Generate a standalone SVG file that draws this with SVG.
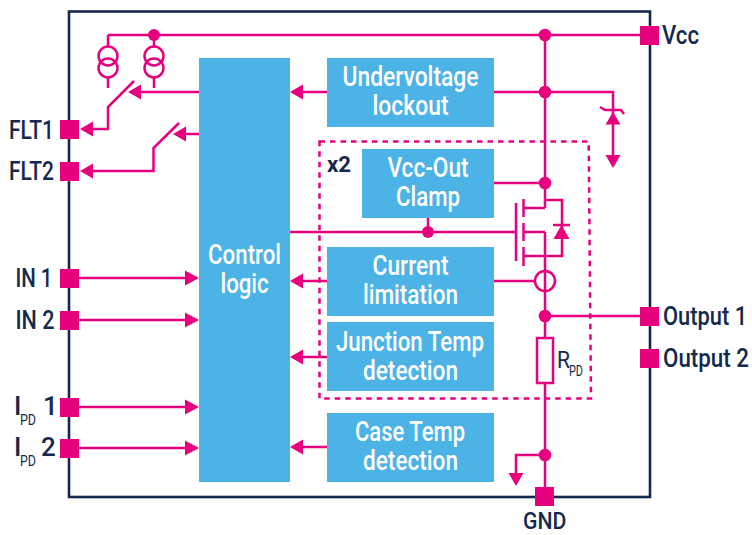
<svg xmlns="http://www.w3.org/2000/svg" width="752" height="535" viewBox="0 0 752 535">
<style>
.w{fill:none;stroke:#e6007e;stroke-width:2.5}
.d{fill:#e6007e}
.p{fill:#e6007e}
.b{fill:#4bb3e6}
.t{font-family:"Roboto","Liberation Sans",sans-serif;font-weight:500;font-size:27px;fill:#fff;text-anchor:middle}
.l{font-family:"Roboto","Liberation Sans",sans-serif;font-weight:500;font-size:26px;fill:#14294d}
.s{font-family:"Roboto","Liberation Sans",sans-serif;font-size:14.500px;fill:#14294d}
</style>
<rect id="frame" x="69" y="11.500" width="581" height="485.500" fill="#fff" stroke="#14294d" stroke-width="2.600"/>
<g id="connectors">
<path class="w" d="M108 35H640M108 35V47M154 35V47M108 78V88M154 78V88"/>
<circle class="w" cx="108" cy="56" r="9.500"/><circle class="w" cx="108" cy="68" r="9.500"/>
<circle class="w" cx="154" cy="56" r="9.500"/><circle class="w" cx="154" cy="68" r="9.500"/>
<path class="w" d="M134 81L108 107V129H92M199 92H140M179 123L153.500 148V171H92M199 134H185"/>
<path class="w" d="M79 278H186M79 320H186M79 407H186M79 448H186"/>
<path class="w" d="M327 92H302M327 281H302M327 357H302M327 447H302"/>
<path class="w" d="M290 232H516M428 232V218"/>
<path class="w" d="M545 35V208M545 232V487M494 92H613V156M494 183H545M494 281H535M545 316H640"/>
<path class="w" d="M600 107L605 110H621L624 114"/>
<path class="w" d="M516 203V261M523.500 199V217M523.500 223V241M523.500 247V266M523.500 208H545M523.500 232H545M523.500 256H562V200H545"/>
<path class="w" d="M553 225H570"/>
<circle class="w" cx="545" cy="281" r="10"/>
<path class="w" d="M545 455H516V474"/>
<path d="M319.500 141.500H588.700L591 398.500H319.500Z" fill="none" stroke="#e6007e" stroke-width="2.500" stroke-dasharray="5.500 5"/>
<rect x="537" y="338" width="16" height="45" fill="#fff" stroke="#e6007e" stroke-width="2.500"/>
<g class="d">
<circle cx="154" cy="35" r="6"/><circle cx="545" cy="35" r="6.300"/><circle cx="545" cy="92" r="6.300"/><circle cx="545" cy="183" r="6.300"/><circle cx="428" cy="232" r="6"/><circle cx="545" cy="316" r="6.300"/><circle cx="545" cy="455" r="6.300"/>
<path d="M128 92L141 84.500V99.500Z"/><path d="M173 134L186 126.500V141.500Z"/>
<path d="M80 129L93 121.500V136.500Z"/><path d="M80 171L93 163.500V178.500Z"/>
<path d="M199 278L185 270.500V285.500Z"/><path d="M199 320L185 312.500V327.500Z"/><path d="M199 407L185 399.500V414.500Z"/><path d="M199 448L185 440.500V455.500Z"/>
<path d="M290 92L303 84.500V99.500Z"/><path d="M290 281L303 273.500V288.500Z"/><path d="M290 357L303 349.500V364.500Z"/><path d="M290 447L303 439.500V454.500Z"/>
<path d="M613 112L620.500 124.500H605.500Z"/><path d="M613 168L605.500 155H620.500Z"/>
<path d="M561.500 225L569.500 239H553.500Z"/>
<path d="M516 486L508.500 473H523.500Z"/>
</g>
</g>
<g id="control"><rect class="b" x="199" y="58" width="91" height="424"/><text class="t" x="244.500" y="264" textLength="73" lengthAdjust="spacingAndGlyphs">Control</text><text class="t" x="244.500" y="293" textLength="48" lengthAdjust="spacingAndGlyphs">logic</text></g>
<g id="uvlo"><rect class="b" x="327" y="58" width="167" height="69"/><text class="t" x="410.500" y="86" textLength="136" lengthAdjust="spacingAndGlyphs">Undervoltage</text><text class="t" x="410.500" y="115" textLength="76" lengthAdjust="spacingAndGlyphs">lockout</text></g>
<g id="clamp"><rect class="b" x="362" y="149" width="132" height="69"/><text class="t" x="428" y="177" textLength="81" lengthAdjust="spacingAndGlyphs">Vcc-Out</text><text class="t" x="428" y="206" textLength="64" lengthAdjust="spacingAndGlyphs">Clamp</text></g>
<g id="current"><rect class="b" x="327" y="247" width="167" height="69"/><text class="t" x="410.500" y="275" textLength="76" lengthAdjust="spacingAndGlyphs">Current</text><text class="t" x="410.500" y="304" textLength="95" lengthAdjust="spacingAndGlyphs">limitation</text></g>
<g id="junction"><rect class="b" x="327" y="322" width="167" height="69"/><text class="t" x="410" y="351" textLength="148" lengthAdjust="spacingAndGlyphs">Junction Temp</text><text class="t" x="410.500" y="380" textLength="95" lengthAdjust="spacingAndGlyphs">detection</text></g>
<g id="case"><rect class="b" x="327" y="413" width="167" height="69"/><text class="t" x="410" y="441" textLength="110" lengthAdjust="spacingAndGlyphs">Case Temp</text><text class="t" x="410.500" y="470" textLength="95" lengthAdjust="spacingAndGlyphs">detection</text></g>
<g id="pins">
<rect class="p" x="60" y="120" width="19" height="19"/><rect class="p" x="60" y="162" width="19" height="19"/><rect class="p" x="60" y="269" width="19" height="19"/><rect class="p" x="60" y="311" width="19" height="19"/><rect class="p" x="60" y="398" width="19" height="19"/><rect class="p" x="60" y="439" width="19" height="19"/>
<rect class="p" x="640" y="26" width="19" height="19"/><rect class="p" x="640" y="307" width="19" height="19"/><rect class="p" x="640" y="349" width="19" height="19"/><rect class="p" x="535" y="487" width="19" height="19"/>
</g>
<g id="labels">
<text class="l" x="9" y="139" textLength="45" lengthAdjust="spacingAndGlyphs">FLT1</text>
<text class="l" x="9" y="180" textLength="45" lengthAdjust="spacingAndGlyphs">FLT2</text>
<text class="l" x="15.500" y="287" textLength="37" lengthAdjust="spacingAndGlyphs">IN 1</text>
<text class="l" x="15.500" y="329" textLength="39" lengthAdjust="spacingAndGlyphs">IN 2</text>
<text class="l" x="14" y="415">I</text><text class="s" x="20" y="425" textLength="16" lengthAdjust="spacingAndGlyphs">PD</text><text class="l" x="43" y="415">1</text>
<text class="l" x="14" y="456">I</text><text class="s" x="20" y="466" textLength="16" lengthAdjust="spacingAndGlyphs">PD</text><text class="l" x="41" y="456">2</text>
<text class="l" transform="translate(662 44) scale(.85 1)" textLength="43.500" lengthAdjust="spacingAndGlyphs">Vcc</text>
<text class="l" transform="translate(663 325) scale(.85 1)" textLength="99" lengthAdjust="spacingAndGlyphs">Output 1</text>
<text class="l" transform="translate(663 367) scale(.85 1)" textLength="101" lengthAdjust="spacingAndGlyphs">Output 2</text>
<text class="l" transform="translate(523 529) scale(.85 1)" textLength="51" lengthAdjust="spacingAndGlyphs" style="font-size:23px">GND</text>
<text class="l" x="327" y="172" textLength="24" lengthAdjust="spacingAndGlyphs" style="font-size:22px;font-weight:700">x2</text>
<text class="s" x="557" y="368" style="font-size:23px" textLength="13" lengthAdjust="spacingAndGlyphs">R</text><text class="s" x="569" y="376" textLength="14" lengthAdjust="spacingAndGlyphs">PD</text>
</g>
</svg>
